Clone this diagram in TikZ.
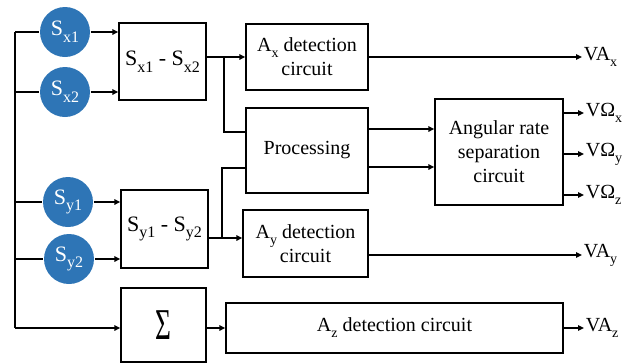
\documentclass[tikz,border=0pt]{standalone}
\usepackage{fontspec}
\setmainfont{Liberation Serif}
\usetikzlibrary{arrows.meta}
\newcommand\lw[1]{\raisebox{-0.3em}{\fontsize{14}{14}\selectfont #1}}
\newcommand\lwb[1]{\raisebox{-0.3em}{\fontsize{16}{16}\selectfont #1}}
\definecolor{cblue}{HTML}{2E75B6}
\begin{document}
\begin{tikzpicture}[x=1pt,y=-1pt, line width=1.8pt,
  box/.style={draw, line width=1.4pt, fill=white, inner sep=0pt, align=center, font=\fontsize{20}{24}\selectfont},
  sbox/.style={box, font=\fontsize{22}{24}\selectfont},
  sens/.style={circle, fill=cblue, minimum size=50pt, inner sep=0pt, text=white, font=\fontsize{22}{22}\selectfont},
  arr/.style={-{Triangle[length=6pt,width=5.5pt]}},
  lbl/.style={anchor=west, inner sep=1pt, font=\fontsize{20}{20}\selectfont}]
\useasboundingbox (0,0) rectangle (629,362);
% boxes
\node[sbox, minimum width=87pt, minimum height=77pt] (sx) at (162.5,61.5) {S\lwb{x1} - S\lwb{x2}};
\node[sbox, minimum width=87pt, minimum height=78pt] (sy) at (164.5,229) {S\lwb{y1} - S\lwb{y2}};
\node[box, minimum width=85pt, minimum height=74pt] (sum) at (163.5,325) {\scalebox{0.62}[1]{\fontsize{44}{44}\selectfont Σ}};
\node[box, minimum width=122pt, minimum height=66pt] (ax) at (307,57) {A\lw{x} detection\\circuit};
\node[box, minimum width=122pt, minimum height=85pt] (proc) at (307,150.5) {Processing};
\node[box, minimum width=125pt, minimum height=67pt] (ay) at (305.5,243.5) {A\lw{y} detection\\circuit};
\node[box, minimum width=337pt, minimum height=50pt] (az) at (394.5,328) {A\lw{z} detection circuit};
\node[box, minimum width=128pt, minimum height=106pt] (ang) at (499,152) {Angular rate\\separation\\circuit};
% sensors
\node[sens] (sx1) at (65,32) {S\lwb{x1}};
\node[sens] (sx2) at (65,92) {S\lwb{x2}};
\node[sens] (sy1) at (68,202) {S\lwb{y1}};
\node[sens] (sy2) at (69,259) {S\lwb{y2}};
% labels
\node[lbl] (vax) at (582,57) {VA\lw{x}};
\node[lbl] (vay) at (582,255) {VA\lw{y}};
\node[lbl] (vaz) at (584,328) {VA\lw{z}};
\node[lbl] (vox) at (584,113) {VΩ\lw{x}};
\node[lbl] (voy) at (584,154) {VΩ\lw{y}};
\node[lbl] (voz) at (584,195) {VΩ\lw{z}};
% bus
\coordinate (b1) at (15,32);
\coordinate (b2) at (15,92);
\coordinate (b3) at (15,202);
\coordinate (b4) at (15,259);
\coordinate (b5) at (15,328);
\draw (b1) -- (b5);
\draw (b1) -- (sx1.west);
\draw (b2) -- (sx2.west);
\draw (b3) -- (sy1.west);
\draw (b4) -- (sy2.west);
\draw[arr] (b5) -- (sum.west |- b5);
\draw[arr] (sx1.east) -- (sx.west |- sx1);
\draw[arr] (sx2.east) -- (sx.west |- sx2);
\draw[arr] (sy1.east) -- (sy.west |- sy1);
\draw[arr] (sy2.east) -- (sy.west |- sy2);
% x branch
\coordinate (j1) at (224,57);
\coordinate (p1) at (224,132);
\draw (sx.east |- j1) -- (j1);
\draw[arr] (j1) -- (ax.west |- j1);
\draw (j1) -- (p1) -- (proc.west |- p1);
% y branch
\coordinate (j2) at (222,238);
\coordinate (p2) at (222,168);
\draw (sy.east |- j2) -- (j2);
\draw[arr] (j2) -- (ay.west |- j2);
\draw (j2) -- (p2) -- (proc.west |- p2);
% processing to angular
\coordinate (po1) at (368,129);
\coordinate (po2) at (368,167);
\draw[arr] (proc.east |- po1) -- (ang.west |- po1);
\draw[arr] (proc.east |- po2) -- (ang.west |- po2);
% outputs
\draw[arr] (ax.east) -- (vax.west);
\draw[arr] (ay.east |- vay) -- (vay.west);
\draw[arr] (sum.east |- az) -- (az.west);
\draw[arr] (az.east) -- (vaz.west);
\draw[arr] (ang.east |- vox) -- (vox.west);
\draw[arr] (ang.east |- voy) -- (voy.west);
\draw[arr] (ang.east |- voz) -- (voz.west);
\end{tikzpicture}
\end{document}
